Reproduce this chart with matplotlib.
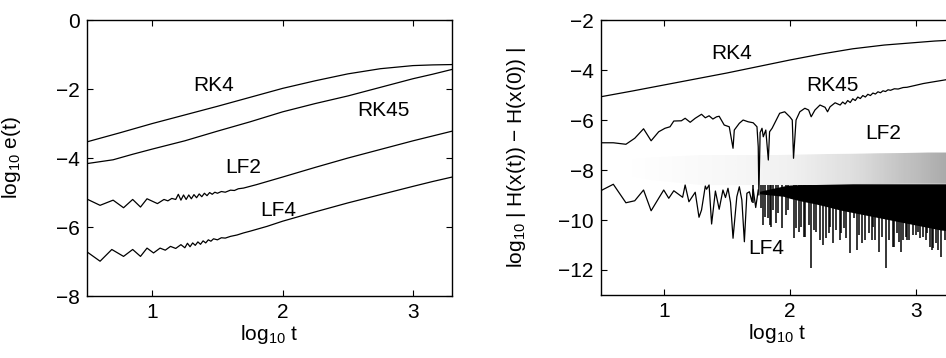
import numpy as np
import matplotlib
matplotlib.use("Agg")
import matplotlib.pyplot as plt

plt.rcParams['font.family'] = ['Liberation Sans', 'DejaVu Sans']
plt.rcParams['mathtext.fontset'] = 'custom'
plt.rcParams['mathtext.rm'] = 'Liberation Sans'
plt.rcParams['mathtext.default'] = 'regular'

# ---- left panel: log10 e(t) ----
rk4_x = [0.50, 0.75, 1.00, 1.25, 1.50, 1.75, 2.00, 2.25, 2.50, 2.75, 3.00, 3.15, 3.30]
rk4_y = [-3.53, -3.27, -3.00, -2.75, -2.50, -2.24, -1.98, -1.76, -1.56, -1.41, -1.32, -1.30, -1.29]

rk45_x = [0.50, 0.70, 0.85, 1.00, 1.25, 1.50, 1.75, 2.00, 2.25, 2.50, 2.75, 3.00, 3.15, 3.30]
rk45_y = [-4.16, -4.05, -3.89, -3.74, -3.50, -3.22, -2.95, -2.66, -2.42, -2.20, -1.95, -1.70, -1.57, -1.43]

lf2_x = [0.50, 0.60, 0.70, 0.78, 0.85, 0.91, 0.96, 1.04, 1.09, 1.12, 1.15, 1.18, 1.20, 1.22,
         1.24, 1.26, 1.28, 1.30, 1.32, 1.34, 1.36, 1.38, 1.40, 1.42, 1.44, 1.46, 1.48, 1.50,
         1.53, 1.56, 1.60, 1.63, 1.66, 1.70, 1.75, 1.80, 1.90, 2.00, 2.25, 2.50, 2.75, 3.00,
         3.15, 3.30]
lf2_y = [-5.19, -5.37, -5.22, -5.44, -5.20, -5.42, -5.18, -5.32, -5.20, -5.24, -5.17, -5.20,
         -5.05, -5.22, -5.07, -5.20, -5.07, -5.18, -5.06, -5.15, -5.04, -5.12, -5.02, -5.09,
         -5.00, -5.05, -4.99, -5.02, -4.97, -4.99, -4.93, -4.94, -4.89, -4.87, -4.82, -4.77,
         -4.66, -4.55, -4.27, -4.00, -3.75, -3.50, -3.36, -3.22]

lf4_x = [0.50, 0.60, 0.69, 0.78, 0.85, 0.91, 0.96, 1.01, 1.06, 1.10, 1.14, 1.18, 1.22, 1.25,
         1.27, 1.29, 1.31, 1.33, 1.35, 1.37, 1.39, 1.41, 1.43, 1.45, 1.47, 1.50, 1.53, 1.56,
         1.60, 1.65, 1.70, 1.75, 1.88, 2.00, 2.25, 2.50, 2.75, 3.00, 3.15, 3.30]
lf4_y = [-6.72, -6.99, -6.65, -6.85, -6.65, -6.85, -6.61, -6.75, -6.61, -6.67, -6.56, -6.62,
         -6.51, -6.60, -6.47, -6.57, -6.46, -6.53, -6.43, -6.50, -6.40, -6.46, -6.37, -6.41,
         -6.34, -6.37, -6.31, -6.32, -6.27, -6.23, -6.17, -6.12, -5.98, -5.83, -5.56, -5.30,
         -5.06, -4.82, -4.68, -4.55]

# ---- right panel: log10 |H(x(t)) - H(x(0))| ----
h_rk4_x = [0.50, 0.75, 1.00, 1.25, 1.50, 1.75, 2.00, 2.25, 2.50, 2.75, 3.00, 3.15, 3.30]
h_rk4_y = [-5.07, -4.84, -4.60, -4.36, -4.12, -3.86, -3.60, -3.36, -3.15, -3.00, -2.90, -2.84, -2.80]

h_rk45_x = [0.50, 0.60, 0.70, 0.77, 0.84, 0.90, 0.96, 1.01, 1.05, 1.08, 1.14, 1.17, 1.21, 1.25,
            1.30, 1.33, 1.36, 1.39, 1.42, 1.44, 1.48, 1.52, 1.55, 1.56, 1.60, 1.63, 1.67, 1.71,
            1.74, 1.75, 1.755, 1.765, 1.78, 1.79, 1.81, 1.83, 1.84, 1.86, 1.92, 1.96, 2.00, 2.02,
            2.03, 2.05, 2.08, 2.12, 2.15, 2.17, 2.20, 2.24, 2.28, 2.30, 2.32, 2.36, 2.40, 2.42,
            2.44, 2.46, 2.48, 2.50, 2.52, 2.54, 2.56, 2.58, 2.60, 2.62, 2.64, 2.66, 2.68, 2.70,
            2.72, 2.74, 2.76, 2.78, 2.80, 2.83, 2.86, 2.90, 2.93, 3.00, 3.06, 3.13, 3.19, 3.25,
            3.30]
h_rk45_y = [-6.91, -6.91, -6.97, -6.73, -6.35, -6.83, -6.47, -6.33, -6.27, -6.04, -6.03, -5.93,
            -6.09, -5.93, -5.77, -5.91, -5.83, -5.96, -5.87, -5.85, -6.20, -6.27, -7.13, -6.40,
            -6.13, -6.00, -6.07, -6.11, -6.27, -7.07, -9.00, -6.50, -6.33, -6.67, -6.40, -7.60,
            -6.47, -6.33, -5.73, -5.67, -5.87, -6.00, -7.53, -6.00, -5.67, -5.53, -5.60, -5.87,
            -5.60, -5.40, -5.49, -5.67, -5.47, -5.31, -5.40, -5.28, -5.36, -5.22, -5.30, -5.15,
            -5.22, -5.08, -5.14, -5.02, -5.08, -4.97, -5.02, -4.92, -4.96, -4.87, -4.91, -4.83,
            -4.86, -4.79, -4.81, -4.75, -4.76, -4.70, -4.69, -4.61, -4.54, -4.48, -4.43, -4.38,
            -4.34]

h_lf4_x = [0.50, 0.60, 0.70, 0.77, 0.84, 0.90, 0.96, 1.00, 1.04, 1.08, 1.15, 1.17, 1.20, 1.25,
           1.28, 1.30, 1.33, 1.34, 1.36, 1.38, 1.41, 1.44, 1.47, 1.49, 1.51, 1.53, 1.55, 1.58,
           1.60, 1.62, 1.64, 1.66, 1.68, 1.70, 1.71, 1.73, 1.75]
h_lf4_y = [-8.83, -8.57, -9.31, -9.23, -8.80, -9.63, -9.13, -8.80, -9.13, -8.83, -9.09, -8.60,
           -9.27, -8.89, -9.89, -9.60, -8.64, -8.77, -8.60, -10.16, -8.84, -9.57, -8.80, -9.10,
           -8.73, -9.30, -10.73, -9.07, -8.67, -9.20, -10.87, -8.93, -8.87, -9.27, -8.77, -9.50,
           -8.80]

# dense LF4 region: solid envelope and the deeper spikes
band_x = [1.76, 1.85, 1.95, 2.00, 2.10, 2.20, 2.30, 2.40, 2.50, 2.60, 2.70, 2.80, 2.90, 3.00,
          3.10, 3.20, 3.30]
band_top = [-8.85, -8.75, -8.64, -8.60, -8.58, -8.58, -8.57, -8.56, -8.55, -8.55, -8.55, -8.55,
            -8.55, -8.55, -8.55, -8.55, -8.55]
band_bot = [-8.95, -9.00, -9.05, -9.13, -9.25, -9.35, -9.47, -9.60, -9.70, -9.80, -9.90, -10.00,
            -10.10, -10.20, -10.30, -10.40, -10.45]
spike_x = [1.71, 1.77, 1.79, 1.80, 1.83, 1.84, 1.85, 1.87, 1.89, 1.91, 1.94, 1.97, 1.99, 2.03,
           2.05, 2.07, 2.09, 2.11, 2.12, 2.15, 2.17, 2.19, 2.21, 2.24, 2.26, 2.29, 2.31, 2.32,
           2.34, 2.37, 2.40, 2.41, 2.43, 2.45, 2.48, 2.51, 2.53, 2.55, 2.57, 2.60, 2.63, 2.65,
           2.66, 2.68, 2.71, 2.73, 2.76, 2.79, 2.82, 2.83, 2.85, 2.87, 2.88, 2.90, 2.92, 2.93,
           2.95, 2.98, 3.00, 3.02, 3.03, 3.06, 3.08, 3.09, 3.11, 3.13, 3.14, 3.16, 3.18, 3.20,
           3.23, 3.26]
spike_y = [-9.33, -9.50, -10.20, -9.87, -9.93, -10.20, -10.27, -9.60, -10.13, -9.70, -10.33,
           -9.80, -9.60, -10.73, -10.33, -10.47, -10.27, -10.67, -10.67, -10.20, -11.93, -10.40,
           -10.47, -10.80, -11.00, -10.73, -10.50, -10.27, -10.93, -10.40, -10.80, -10.53,
           -10.30, -10.73, -11.33, -9.93, -11.20, -10.60, -10.90, -10.80, -10.53, -10.80,
           -10.27, -10.80, -11.27, -10.67, -11.93, -10.80, -11.07, -11.07, -10.53, -10.87,
           -11.27, -10.80, -10.67, -10.80, -10.80, -10.60, -10.60, -10.47, -10.70, -10.67,
           -10.80, -10.53, -11.07, -11.20, -11.10, -10.93, -11.20, -11.47, -10.80, -10.70]

# LF2 shows up as a stippled cloud: its envelope
h_lf2_x = [0.70, 0.90, 1.10, 1.30, 1.50, 1.70, 1.90, 2.10, 2.30, 2.50, 2.70, 2.90, 3.10, 3.30]
h_lf2_top = [-7.60, -7.50, -7.45, -7.40, -7.40, -7.40, -7.40, -7.38, -7.36, -7.35, -7.33, -7.32,
             -7.30, -7.30]
h_lf2_bot = [-8.20, -8.40, -8.50, -8.60, -8.60, -8.60, -8.60, -8.60, -8.60, -8.58, -8.56, -8.55,
             -8.55, -8.55]

fig = plt.figure(figsize=(9.46, 3.58), dpi=100)
ax1 = fig.add_axes([0.092, 0.173, 0.386, 0.771])
ax2 = fig.add_axes([0.635, 0.176, 0.373, 0.768])

lw = 0.9
ax1.plot(rk4_x, rk4_y, color='black', lw=lw)
ax1.plot(rk45_x, rk45_y, color='black', lw=lw)
ax1.plot(lf2_x, lf2_y, color='black', lw=lw)
ax1.plot(lf4_x, lf4_y, color='black', lw=lw)
ax1.text(1.47, -1.89, 'RK4', fontsize=15, ha='center', va='center')
ax1.text(2.77, -2.61, 'RK45', fontsize=15, ha='center', va='center')
ax1.text(1.70, -4.26, 'LF2', fontsize=15, ha='center', va='center')
ax1.text(1.97, -5.51, 'LF4', fontsize=15, ha='center', va='center')
ax1.set_xlim(0.5, 3.3)
ax1.set_ylim(-8, 0)
ax1.set_yticks([-8, -6, -4, -2, 0])
ax1.set_xticks([1, 2, 3])
ax1.set_ylabel('log$_{10}$ e(t)', fontsize=15)
ax1.set_xlabel('log$_{10}$ t', fontsize=15, labelpad=1)

# stippled LF2 cloud: grey shading, denser to the right, clipped to its envelope
poly = ax2.fill_between(h_lf2_x, h_lf2_bot, h_lf2_top, facecolor='none', edgecolor='none')
gx = np.linspace(0.7, 3.3, 300)
shade = np.interp(gx, [0.7, 1.5, 2.0, 2.5, 2.9, 3.3], [0.0, 0.06, 0.12, 0.22, 0.35, 0.45])
im = ax2.imshow(shade.reshape(1, -1), extent=[0.7, 3.3, -8.7, -7.2], aspect='auto',
                cmap='Greys', vmin=0, vmax=1, zorder=1, interpolation='bilinear')
im.set_clip_path(poly.get_paths()[0], transform=ax2.transData)

ax2.fill_between(band_x, band_bot, band_top, color='black', lw=0, zorder=2)
ax2.vlines(spike_x, -8.6, spike_y, color='black', lw=1.1, zorder=2)
ax2.plot(h_lf4_x, h_lf4_y, color='black', lw=lw, zorder=3)
ax2.plot(h_rk45_x, h_rk45_y, color='black', lw=lw, zorder=3)
ax2.plot(h_rk4_x, h_rk4_y, color='black', lw=lw, zorder=3)
ax2.text(1.535, -3.33, 'RK4', fontsize=15, ha='center', va='center')
ax2.text(2.34, -4.60, 'RK45', fontsize=15, ha='center', va='center')
ax2.text(2.74, -6.53, 'LF2', fontsize=15, ha='center', va='center')
ax2.text(1.81, -11.13, 'LF4', fontsize=15, ha='center', va='center')
ax2.set_xlim(0.5, 3.3)
ax2.set_ylim(-13, -2)
ax2.set_yticks([-12, -10, -8, -6, -4, -2])
ax2.set_xticks([1, 2, 3])
ax2.set_ylabel('log$_{10}$ | H(x(t)) − H(x(0)) |', fontsize=15)
ax2.set_xlabel('log$_{10}$ t', fontsize=15, labelpad=1)

for ax in (ax1, ax2):
    ax.tick_params(direction='in', top=True, right=True, length=4, width=0.8,
                   labelsize=15, pad=5)
    for s in ax.spines.values():
        s.set_linewidth(1.0)

ax1.yaxis.set_label_coords(-0.175, 0.5)
ax2.yaxis.set_label_coords(-0.207, 0.5)

fig.savefig('out.png', dpi=100)
